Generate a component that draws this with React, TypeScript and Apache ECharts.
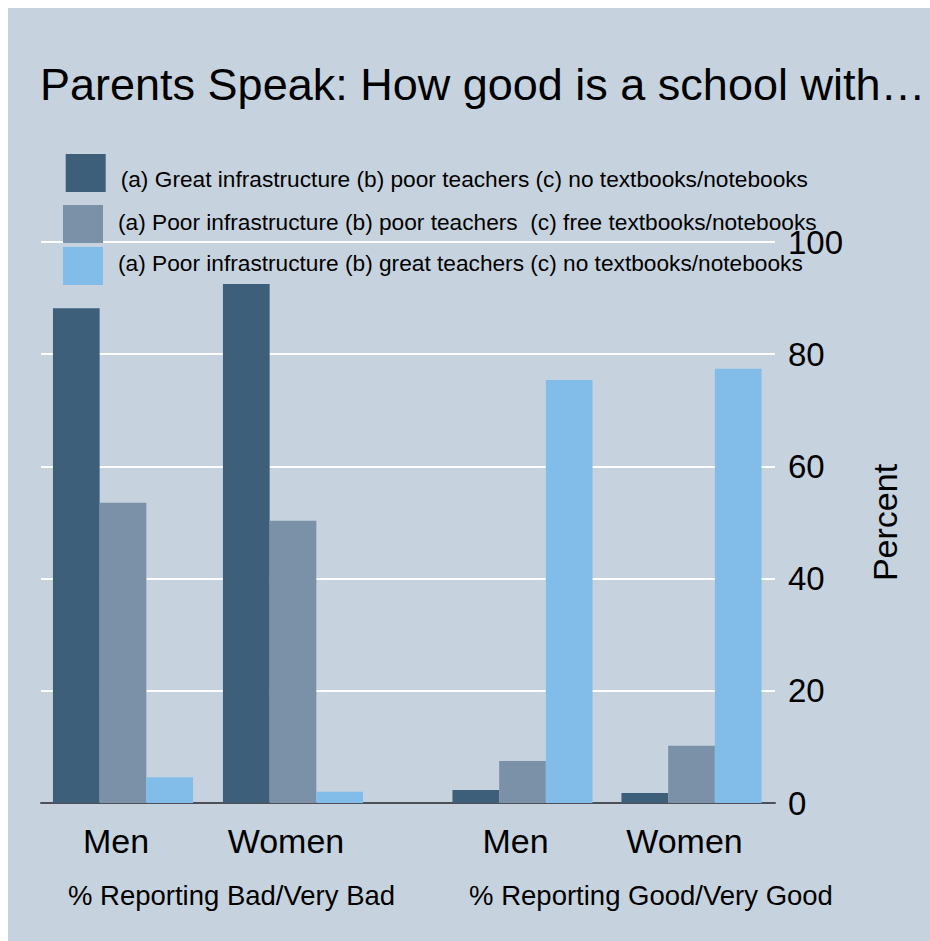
import React, { useEffect, useRef } from "react";
import * as echarts from "echarts";

const categories = ["Men", "Women"];
const seriesNames = [
  "(a) Great infrastructure (b) poor teachers (c) no textbooks/notebooks",
  "(a) Poor infrastructure (b) poor teachers  (c) free textbooks/notebooks",
  "(a) Poor infrastructure (b) great teachers (c) no textbooks/notebooks",
];
const seriesColors = ["#3d5f7a", "#7b91a8", "#82bdea"];
// % Reporting Bad/Very Bad (Men, Women)
const badGreatInfraPoorTeachers = [88.2, 92.5];
const badPoorInfraPoorTeachersFreeBooks = [53.5, 50.3];
const badPoorInfraGreatTeachers = [4.6, 2.0];
// % Reporting Good/Very Good (Men, Women)
const goodGreatInfraPoorTeachers = [2.3, 1.8];
const goodPoorInfraPoorTeachersFreeBooks = [7.5, 10.2];
const goodPoorInfraGreatTeachers = [75.4, 77.4];
const groupTitles = ["% Reporting Bad/Very Bad", "% Reporting Good/Very Good"];
const yTicks = [0, 20, 40, 60, 80, 100];

const FONT = "'Liberation Sans', Arial, sans-serif";

export default function App() {
  const ref = useRef<HTMLDivElement>(null);
  useEffect(() => {
    if (!ref.current) return;
    const chart = echarts.init(ref.current, undefined, { renderer: "svg" });
    const badSets = [badGreatInfraPoorTeachers, badPoorInfraPoorTeachersFreeBooks, badPoorInfraGreatTeachers];
    const goodSets = [goodGreatInfraPoorTeachers, goodPoorInfraPoorTeachersFreeBooks, goodPoorInfraGreatTeachers];
    const mkSeries = (sets: number[][], idx: number) =>
      sets.map((d, i) => ({
        type: "bar",
        name: seriesNames[i],
        xAxisIndex: idx,
        yAxisIndex: idx,
        data: d,
        barWidth: 46.7,
        barGap: "0%",
        itemStyle: { color: seriesColors[i] },
        z: 3,
      }));
    const catAxis = (idx: number) => ({
      gridIndex: idx,
      type: "category",
      data: categories,
      axisLine: { show: false },
      axisTick: { show: false },
      splitLine: { show: false },
      axisLabel: {
        fontSize: 34,
        color: "#000",
        fontFamily: FONT,
        margin: 21,
        padding: [0, 14, 0, 0],
      },
    });
    const hiddenY = (idx: number) => ({
      gridIndex: idx,
      type: "value",
      min: yTicks[0],
      max: yTicks[yTicks.length - 1],
      show: false,
    });
    const legendTops = [146, 197, 239];
    const legendLefts = [57.7, 55, 55];
    const legendPadTop = [12, 0, 0];
    const legendPadBottom = [0, 4, 6];
    chart.setOption({
      animation: false,
      backgroundColor: "#c6d3df",
      title: {
        text: "Parents Speak: How good is a school with…",
        left: 32,
        top: 54,
        padding: 0,
        textStyle: { fontSize: 45, fontWeight: "normal", color: "#000", fontFamily: FONT },
      },
      legend: seriesNames.map((n, i) => ({
        data: [n],
        orient: "vertical",
        left: legendLefts[i],
        top: legendTops[i],
        padding: 0,
        itemWidth: 40,
        itemHeight: 38,
        icon: "rect",
        selectedMode: false,
        formatter: "{t|{name}}",
        textStyle: {
          color: "#000",
          rich: {
            t: {
              fontSize: 22.7,
              color: "#000",
              fontFamily: FONT,
              padding: [legendPadTop[i], 0, legendPadBottom[i], 10],
            },
          },
        },
      })),
      grid: [
        { left: 33, width: 734, top: 234, bottom: 138 },
        { left: 30, width: 340, top: 234, bottom: 138 },
        { left: 430, width: 338, top: 234, bottom: 138 },
      ],
      xAxis: [
        {
          gridIndex: 0,
          type: "category",
          data: [""],
          axisLine: { show: true, lineStyle: { color: "#4d5157", width: 2 } },
          axisTick: { show: false },
          axisLabel: { show: false },
          splitLine: { show: false },
        },
        catAxis(1),
        catAxis(2),
      ],
      yAxis: [
        {
          gridIndex: 0,
          type: "value",
          position: "right",
          min: yTicks[0],
          max: yTicks[yTicks.length - 1],
          interval: yTicks[1] - yTicks[0],
          axisLine: { show: false },
          axisTick: { show: false },
          splitLine: { show: true, lineStyle: { color: "#ffffff", width: 2 } },
          axisLabel: { fontSize: 33, color: "#000", fontFamily: FONT, margin: 13, padding: [10, 0, 0, 0] },
          name: "Percent",
          nameLocation: "middle",
          nameGap: 93,
          nameTextStyle: { fontSize: 34, color: "#000", fontFamily: FONT },
        },
        hiddenY(1),
        hiddenY(2),
      ],
      graphic: [
        {
          type: "text",
          x: 223.5,
          y: 887,
          style: {
            text: groupTitles[0],
            font: `27.5px ${FONT}`,
            fill: "#000",
            textAlign: "center",
            textVerticalAlign: "middle",
          },
        },
        {
          type: "text",
          x: 643,
          y: 887,
          style: {
            text: groupTitles[1],
            font: `27.5px ${FONT}`,
            fill: "#000",
            textAlign: "center",
            textVerticalAlign: "middle",
          },
        },
      ],
      series: [...mkSeries(badSets, 1), ...mkSeries(goodSets, 2)],
    });
    return () => chart.dispose();
  }, []);
  return (
    <div
      ref={ref}
      style={{ position: "absolute", left: 8, top: 8, width: 922, height: 933 }}
    />
  );
}
